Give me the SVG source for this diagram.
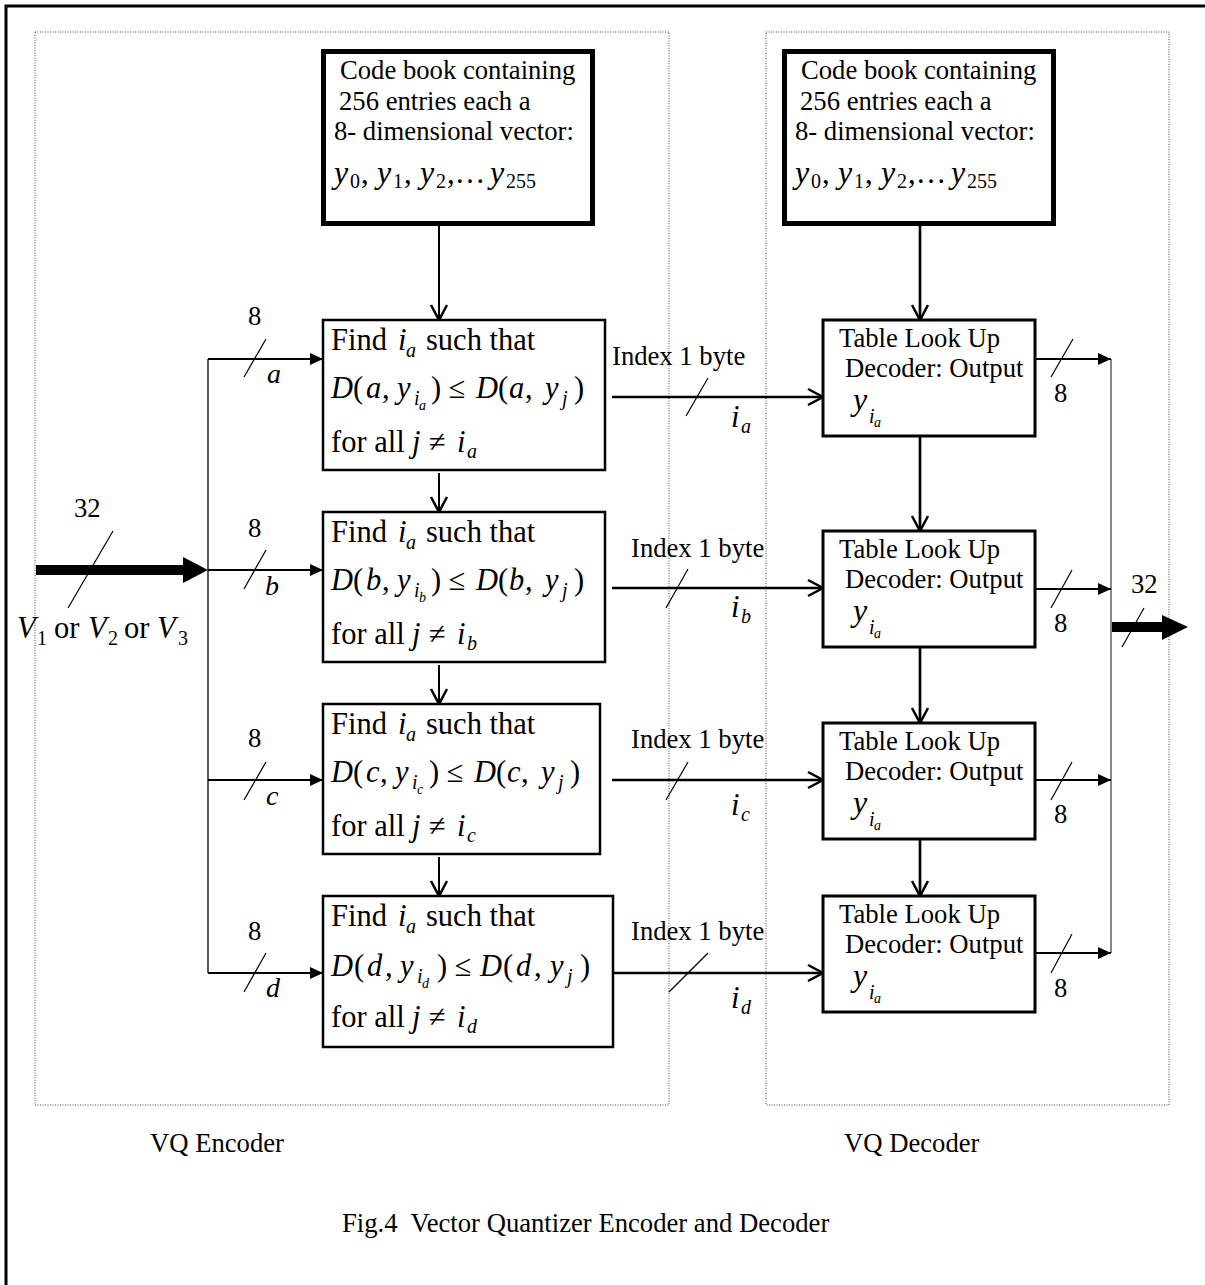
<svg xmlns="http://www.w3.org/2000/svg" width="1205" height="1285" viewBox="0 0 1205 1285">
<defs>
<style>
text{font-family:"Liberation Serif","Times New Roman",serif;fill:#000}
.t{font-size:26.67px}
.m{font-size:30.5px}
.mi{font-size:30.5px;font-style:italic}
.yi{font-size:32px;font-style:italic}
.s{font-size:20px;font-style:italic}
.sr{font-size:20px}
.ss{font-size:14px;font-style:italic}
.lb{font-size:28px;font-style:italic}
.frame{fill:none;stroke:#000;stroke-width:3}
.dot{fill:none;stroke:#444;stroke-width:1;stroke-dasharray:1 1.5}
.cb{fill:#fff;stroke:#000;stroke-width:5}
.fb{fill:#fff;stroke:#000;stroke-width:2.5}
.db{fill:#fff;stroke:#000;stroke-width:3}
.ln{fill:none;stroke:#000;stroke-width:2}
.lt{fill:none;stroke:#000;stroke-width:2.7}
.bus{fill:none;stroke:#000;stroke-width:1.3}
.gbus{fill:none;stroke:#888;stroke-width:2}
.sl{fill:none;stroke:#000;stroke-width:1.2}
</style>
<marker id="fa" markerUnits="userSpaceOnUse" markerWidth="14" markerHeight="14" refX="13" refY="6" orient="auto" overflow="visible"><path d="M0,0 L13,6 L0,12 z" fill="#000"/></marker>
<marker id="va" markerUnits="userSpaceOnUse" markerWidth="18" markerHeight="18" refX="15" refY="8" orient="auto" overflow="visible"><path d="M0,0 L15,8 L0,16" fill="none" stroke="#000" stroke-width="2.5"/></marker>
</defs>

<rect class="frame" x="6" y="6" width="1300" height="1400"/>

<g id="encoder-region"><rect class="dot" x="35" y="32" width="634" height="1073"/><text class="t" x="150" y="1152">VQ Encoder</text></g>
<g id="decoder-region"><rect class="dot" x="766" y="32" width="403" height="1073"/><text class="t" x="844" y="1152">VQ Decoder</text></g>

<g id="connectors">
<line class="ln" x1="439" y1="226" x2="439" y2="320" marker-end="url(#va)"/>
<line class="ln" x1="439" y1="473" x2="439" y2="512" marker-end="url(#va)"/>
<line class="ln" x1="439" y1="665" x2="439" y2="704" marker-end="url(#va)"/>
<line class="ln" x1="439" y1="857" x2="439" y2="896" marker-end="url(#va)"/>
<line class="lt" x1="920" y1="226" x2="920" y2="320" marker-end="url(#va)"/>
<line class="lt" x1="920" y1="436" x2="920" y2="531" marker-end="url(#va)"/>
<line class="lt" x1="920" y1="647" x2="920" y2="723" marker-end="url(#va)"/>
<line class="lt" x1="920" y1="839" x2="920" y2="896" marker-end="url(#va)"/>
<rect x="36" y="565" width="148" height="10" fill="#000"/>
<polygon points="183,557 208,570 183,583" fill="#000"/>
<line class="sl" x1="113" y1="531" x2="68" y2="608"/>
<line class="bus" x1="208" y1="359" x2="208" y2="973"/>
<line class="ln" x1="208" y1="359" x2="323" y2="359" marker-end="url(#fa)"/>
<line class="ln" x1="208" y1="570" x2="323" y2="570" marker-end="url(#fa)"/>
<line class="ln" x1="208" y1="780" x2="323" y2="780" marker-end="url(#fa)"/>
<line class="ln" x1="208" y1="973" x2="323" y2="973" marker-end="url(#fa)"/>
<line class="sl" x1="266" y1="339" x2="244" y2="377"/>
<line class="sl" x1="266" y1="550" x2="244" y2="589"/>
<line class="sl" x1="266" y1="762" x2="244" y2="800"/>
<line class="sl" x1="266" y1="953" x2="244" y2="992"/>
<line class="lt" x1="612" y1="397" x2="823" y2="397" marker-end="url(#va)"/>
<line class="lt" x1="612" y1="588" x2="823" y2="588" marker-end="url(#va)"/>
<line class="lt" x1="612" y1="780" x2="823" y2="780" marker-end="url(#va)"/>
<line class="lt" x1="612" y1="973" x2="823" y2="973" marker-end="url(#va)"/>
<line class="sl" x1="708" y1="378" x2="686" y2="416"/>
<line class="sl" x1="688" y1="569" x2="666" y2="608"/>
<line class="sl" x1="688" y1="762" x2="666" y2="800"/>
<line class="sl" x1="708" y1="953" x2="669" y2="992"/>
<line class="gbus" x1="1111" y1="359" x2="1111" y2="953"/>
<line class="ln" x1="1035" y1="359" x2="1111" y2="359" marker-end="url(#fa)"/>
<line class="ln" x1="1035" y1="589" x2="1111" y2="589" marker-end="url(#fa)"/>
<line class="ln" x1="1035" y1="780" x2="1111" y2="780" marker-end="url(#fa)"/>
<line class="ln" x1="1035" y1="953" x2="1111" y2="953" marker-end="url(#fa)"/>
<line class="sl" x1="1073" y1="339" x2="1051" y2="377"/>
<line class="sl" x1="1072" y1="570" x2="1051" y2="608"/>
<line class="sl" x1="1072" y1="762" x2="1051" y2="800"/>
<line class="sl" x1="1072" y1="934" x2="1051" y2="973"/>
<rect x="1112" y="622" width="51" height="10" fill="#000"/>
<polygon points="1162,615 1188,627 1162,640" fill="#000"/>
<line class="sl" x1="1144" y1="608" x2="1122" y2="647"/>
</g>

<g id="connector-labels">
<text class="t" x="74" y="517">32</text>
<text x="17" y="638"><tspan class="mi">V</tspan><tspan class="sr" x="37" y="645">1</tspan><tspan class="m" x="54" y="638">or</tspan><tspan class="mi" x="88" y="638">V</tspan><tspan class="sr" x="108" y="645">2</tspan><tspan class="m" x="124" y="638">or</tspan><tspan class="mi" x="157" y="638">V</tspan><tspan class="sr" x="178" y="645">3</tspan></text>
<text class="t" x="248" y="325">8</text><text class="lb" x="267" y="383">a</text>
<text class="t" x="248" y="537">8</text><text class="lb" x="265" y="595">b</text>
<text class="t" x="248" y="747">8</text><text class="lb" x="266" y="805">c</text>
<text class="t" x="248" y="940">8</text><text class="lb" x="266" y="997">d</text>
<text class="t" x="612" y="365">Index 1 byte</text>
<text class="t" x="631" y="557">Index 1 byte</text>
<text class="t" x="631" y="748">Index 1 byte</text>
<text class="t" x="631" y="940">Index 1 byte</text>
<text x="731" y="427"><tspan class="mi">i</tspan><tspan class="s" x="741" y="433">a</tspan></text>
<text x="731" y="617"><tspan class="mi">i</tspan><tspan class="s" x="741" y="623">b</tspan></text>
<text x="731" y="815"><tspan class="mi">i</tspan><tspan class="s" x="741" y="821">c</tspan></text>
<text x="731" y="1008"><tspan class="mi">i</tspan><tspan class="s" x="741" y="1014">d</tspan></text>
<text class="t" x="1054" y="402">8</text>
<text class="t" x="1054" y="632">8</text>
<text class="t" x="1054" y="823">8</text>
<text class="t" x="1054" y="997">8</text>
<text class="t" x="1131" y="593">32</text>
</g>

<g id="enc-codebook">
<rect class="cb" x="323.5" y="51.5" width="269" height="172"/>
<text class="t" x="340" y="79">Code book containing</text>
<text class="t" x="339" y="110">256 entries each a</text>
<text class="t" x="334" y="140">8- dimensional vector:</text>
<text x="334" y="183"><tspan class="yi">y</tspan><tspan class="sr" x="350" y="188">0</tspan><tspan class="m" x="361" y="183">,</tspan><tspan class="yi" x="377" y="183">y</tspan><tspan class="sr" x="393" y="188">1</tspan><tspan class="m" x="404" y="183">,</tspan><tspan class="yi" x="420" y="183">y</tspan><tspan class="sr" x="436" y="188">2</tspan><tspan class="m" x="447" y="183">,…</tspan><tspan class="yi" x="490" y="183">y</tspan><tspan class="sr" x="506" y="188">255</tspan></text>
</g>

<g id="dec-codebook">
<rect class="cb" x="784.5" y="51.5" width="269" height="172"/>
<text class="t" x="801" y="79">Code book containing</text>
<text class="t" x="800" y="110">256 entries each a</text>
<text class="t" x="795" y="140">8- dimensional vector:</text>
<text x="795" y="183"><tspan class="yi">y</tspan><tspan class="sr" x="811" y="188">0</tspan><tspan class="m" x="822" y="183">,</tspan><tspan class="yi" x="838" y="183">y</tspan><tspan class="sr" x="854" y="188">1</tspan><tspan class="m" x="865" y="183">,</tspan><tspan class="yi" x="881" y="183">y</tspan><tspan class="sr" x="897" y="188">2</tspan><tspan class="m" x="908" y="183">,…</tspan><tspan class="yi" x="951" y="183">y</tspan><tspan class="sr" x="967" y="188">255</tspan></text>
</g>

<g id="find-a">
<rect class="fb" x="323" y="320" width="282" height="150"/>
<text y="350"><tspan class="m" x="331">Find</tspan><tspan class="mi" x="398">i</tspan><tspan class="s" x="406" y="357">a</tspan><tspan class="m" x="426" y="350">such that</tspan></text>
<text y="398"><tspan class="mi" x="331">D</tspan><tspan class="m" x="353">(</tspan><tspan class="mi" x="366">a</tspan><tspan class="m" x="382">,</tspan><tspan class="mi" x="397">y</tspan><tspan class="s" x="414" y="405">i</tspan><tspan class="ss" x="419" y="410">a</tspan><tspan class="m" x="431" y="398">) ≤</tspan><tspan class="mi" x="476">D</tspan><tspan class="m" x="498">(</tspan><tspan class="mi" x="509">a</tspan><tspan class="m" x="525">,</tspan><tspan class="mi" x="545">y</tspan><tspan class="s" x="562" y="405">j</tspan><tspan class="m" x="574" y="398">)</tspan></text>
<text y="452"><tspan class="m" x="331">for all</tspan><tspan class="mi" x="412">j</tspan><tspan class="m" x="429">≠</tspan><tspan class="mi" x="457">i</tspan><tspan class="s" x="467" y="458">a</tspan></text>
</g>

<g id="find-b">
<rect class="fb" x="323" y="512" width="282" height="150"/>
<text y="542"><tspan class="m" x="331">Find</tspan><tspan class="mi" x="398">i</tspan><tspan class="s" x="406" y="549">a</tspan><tspan class="m" x="426" y="542">such that</tspan></text>
<text y="590"><tspan class="mi" x="331">D</tspan><tspan class="m" x="353">(</tspan><tspan class="mi" x="366">b</tspan><tspan class="m" x="382">,</tspan><tspan class="mi" x="397">y</tspan><tspan class="s" x="414" y="597">i</tspan><tspan class="ss" x="419" y="602">b</tspan><tspan class="m" x="431" y="590">) ≤</tspan><tspan class="mi" x="476">D</tspan><tspan class="m" x="498">(</tspan><tspan class="mi" x="509">b</tspan><tspan class="m" x="525">,</tspan><tspan class="mi" x="545">y</tspan><tspan class="s" x="562" y="597">j</tspan><tspan class="m" x="574" y="590">)</tspan></text>
<text y="644"><tspan class="m" x="331">for all</tspan><tspan class="mi" x="412">j</tspan><tspan class="m" x="429">≠</tspan><tspan class="mi" x="457">i</tspan><tspan class="s" x="467" y="650">b</tspan></text>
</g>

<g id="find-c">
<rect class="fb" x="323" y="704" width="277" height="150"/>
<text y="734"><tspan class="m" x="331">Find</tspan><tspan class="mi" x="398">i</tspan><tspan class="s" x="406" y="741">a</tspan><tspan class="m" x="426" y="734">such that</tspan></text>
<text y="782"><tspan class="mi" x="331">D</tspan><tspan class="m" x="353">(</tspan><tspan class="mi" x="366">c</tspan><tspan class="m" x="380">,</tspan><tspan class="mi" x="395">y</tspan><tspan class="s" x="412" y="789">i</tspan><tspan class="ss" x="417" y="794">c</tspan><tspan class="m" x="429" y="782">) ≤</tspan><tspan class="mi" x="474">D</tspan><tspan class="m" x="496">(</tspan><tspan class="mi" x="507">c</tspan><tspan class="m" x="521">,</tspan><tspan class="mi" x="541">y</tspan><tspan class="s" x="558" y="789">j</tspan><tspan class="m" x="570" y="782">)</tspan></text>
<text y="836"><tspan class="m" x="331">for all</tspan><tspan class="mi" x="412">j</tspan><tspan class="m" x="429">≠</tspan><tspan class="mi" x="457">i</tspan><tspan class="s" x="467" y="842">c</tspan></text>
</g>

<g id="find-d">
<rect class="fb" x="323" y="896" width="290" height="151"/>
<text y="926"><tspan class="m" x="331">Find</tspan><tspan class="mi" x="398">i</tspan><tspan class="s" x="406" y="933">a</tspan><tspan class="m" x="426" y="926">such that</tspan></text>
<text y="976"><tspan class="mi" x="331">D</tspan><tspan class="m" x="354">(</tspan><tspan class="mi" x="367">d</tspan><tspan class="m" x="385">,</tspan><tspan class="mi" x="400">y</tspan><tspan class="s" x="417" y="983">i</tspan><tspan class="ss" x="422" y="988">d</tspan><tspan class="m" x="437" y="976">) ≤</tspan><tspan class="mi" x="480">D</tspan><tspan class="m" x="503">(</tspan><tspan class="mi" x="516">d</tspan><tspan class="m" x="534">,</tspan><tspan class="mi" x="550">y</tspan><tspan class="s" x="567" y="983">j</tspan><tspan class="m" x="580" y="976">)</tspan></text>
<text y="1027"><tspan class="m" x="331">for all</tspan><tspan class="mi" x="412">j</tspan><tspan class="m" x="429">≠</tspan><tspan class="mi" x="457">i</tspan><tspan class="s" x="467" y="1033">d</tspan></text>
</g>

<g id="dec-a">
<rect class="db" x="823" y="320" width="212" height="116"/>
<text class="t" x="839" y="347">Table Look Up</text>
<text class="t" x="845" y="377">Decoder: Output</text>
<text x="853" y="410"><tspan class="yi">y</tspan><tspan class="s" x="869" y="423">i</tspan><tspan class="ss" x="874" y="427">a</tspan></text>
</g>
<g id="dec-b">
<rect class="db" x="823" y="531" width="212" height="116"/>
<text class="t" x="839" y="558">Table Look Up</text>
<text class="t" x="845" y="588">Decoder: Output</text>
<text x="853" y="621"><tspan class="yi">y</tspan><tspan class="s" x="869" y="634">i</tspan><tspan class="ss" x="874" y="638">a</tspan></text>
</g>
<g id="dec-c">
<rect class="db" x="823" y="723" width="212" height="116"/>
<text class="t" x="839" y="750">Table Look Up</text>
<text class="t" x="845" y="780">Decoder: Output</text>
<text x="853" y="813"><tspan class="yi">y</tspan><tspan class="s" x="869" y="826">i</tspan><tspan class="ss" x="874" y="830">a</tspan></text>
</g>
<g id="dec-d">
<rect class="db" x="823" y="896" width="212" height="116"/>
<text class="t" x="839" y="923">Table Look Up</text>
<text class="t" x="845" y="953">Decoder: Output</text>
<text x="853" y="986"><tspan class="yi">y</tspan><tspan class="s" x="869" y="999">i</tspan><tspan class="ss" x="874" y="1003">a</tspan></text>
</g>

<g id="caption"><text class="t" x="342" y="1232" xml:space="preserve">Fig.4  Vector Quantizer Encoder and Decoder</text></g>
</svg>
